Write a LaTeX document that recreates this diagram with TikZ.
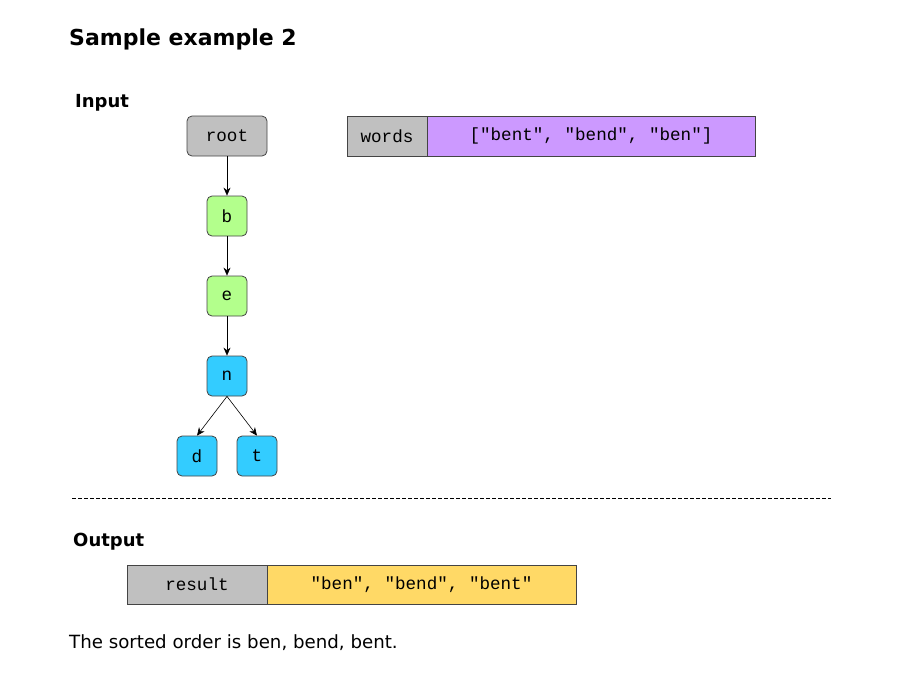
\documentclass[tikz,border=0pt]{standalone}
\usepackage{fontspec}
\setmainfont{DejaVu Sans}
\newfontfamily\monof{Liberation Mono}
\usetikzlibrary{arrows.meta}
\definecolor{grayfill}{HTML}{C0C0C0}
\definecolor{greenfill}{HTML}{B3FF8C}
\definecolor{cyanfill}{HTML}{33CCFF}
\definecolor{purplefill}{HTML}{CC99FF}
\definecolor{yellowfill}{HTML}{FFD966}
\definecolor{edgecol}{HTML}{444444}
\begin{document}
\begin{tikzpicture}[x=1pt,y=-1pt,
  tnode/.style={draw=edgecol,line width=0.8pt,rounded corners=5pt,minimum width=40pt,minimum height=40pt,inner sep=0pt,font=\monof\fontsize{17.6}{20}\selectfont},
  cell/.style={draw=edgecol,line width=0.8pt,minimum height=40pt,inner sep=0pt,font=\monof\fontsize{17.6}{20}\selectfont},
  head/.style={font=\bfseries\fontsize{18}{21}\selectfont,anchor=west,inner sep=0pt},
  conn/.style={-{Stealth[length=8pt,width=7pt]},line width=0.6pt,black}]
\useasboundingbox (0,0) rectangle (906,673);
\node[head,font=\bfseries\fontsize{22}{26}\selectfont] (title) at (69,39) {Sample example 2};
\node[head] (input) at (75,102.5) {Input};
\node[tnode,fill=grayfill,minimum width=80pt] (root) at (227,136) {root};
\node[tnode,fill=greenfill] (b) at (227,216) {b};
\node[tnode,fill=greenfill] (e) at (227,296) {e};
\node[tnode,fill=cyanfill] (n) at (227,376) {n};
\node[tnode,fill=cyanfill] (d) at (197,456) {d};
\node[tnode,fill=cyanfill] (t) at (257,456) {t};
\draw[conn] (root) -- (b);
\draw[conn] (b) -- (e);
\draw[conn] (e) -- (n);
\draw[conn] (n.south) -- (d.north);
\draw[conn] (n.south) -- (t.north);
\node[cell,fill=grayfill,minimum width=80pt] (words) at (387,136) {words};
\node[cell,fill=purplefill,minimum width=328pt] (wval) at (591,136) {["bent", "bend", "ben"]};
\coordinate (dl) at (72,498);
\coordinate (dr) at (831,498);
\draw[dashed,dash pattern=on 4pt off 2pt,line width=0.6pt,black] (dl) -- (dr);
\node[head] (output) at (73,541.5) {Output};
\node[cell,fill=grayfill,minimum width=140pt,minimum height=39pt] (result) at (197,584.5) {result};
\node[cell,fill=yellowfill,minimum width=309pt,minimum height=39pt] (rval) at (421.5,584.5) {"ben", "bend", "bent"};
\node[anchor=west,inner sep=0pt,font=\fontsize{18.2}{21}\selectfont] (note) at (69,642.5) {The sorted order is ben, bend, bent.};
\end{tikzpicture}
\end{document}
